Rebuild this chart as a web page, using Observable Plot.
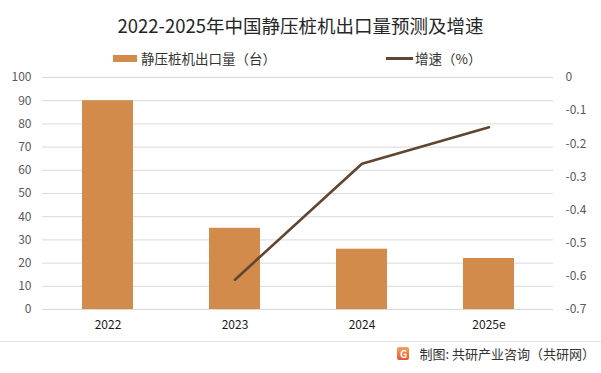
<!DOCTYPE html>
<html><head><meta charset="utf-8">
<script src="https://cdn.jsdelivr.net/npm/d3@7"></script>
<script src="https://cdn.jsdelivr.net/npm/@observablehq/plot@0.6"></script>
<style>
html,body{margin:0;padding:0;background:#fff;}
#wrap{position:relative;width:601px;height:373px;overflow:hidden;font-family:"Noto Sans CJK SC","Noto Sans",sans-serif;}
#wrap svg{position:absolute;left:0;top:0;}
.title{position:absolute;left:0;width:601px;top:12px;text-align:center;font-size:18.5px;color:#262626;}
.leg{position:absolute;top:48px;font-size:13.5px;color:#333;display:flex;align-items:center;}
.sw{display:inline-block;}
.foot{position:absolute;top:344px;right:6px;font-size:13px;color:#333;display:flex;align-items:center;}
.sep{position:absolute;top:341px;left:0;width:601px;height:1px;background:#e3e3e3;}
.logo{width:12px;height:13px;border-radius:2px;background:linear-gradient(#f7a35c,#e8542c);margin-right:10px;color:#fff;font-size:10px;font-weight:bold;text-align:center;line-height:13px;}
</style></head>
<body><div id="wrap">
<div class="title">2022-2025年中国静压桩机出口量预测及增速</div>
<div class="leg" style="left:113px"><span class="sw" style="width:24px;height:7px;background:#D38B4C;margin-right:4px"></span>静压桩机出口量（台）</div>
<div class="leg" style="left:386px"><span class="sw" style="width:27px;height:3px;background:#5E4630;margin-right:2px"></span>增速（%）</div>
<div class="sep"></div>
<div class="foot"><span class="logo">G</span>制图: 共研产业咨询（共研网）</div>
</div>
<script>
const years = ["2022", "2023", "2024", "2025e"];
const exportsQty = [90, 35, 26, 22];
const growthYears = ["2023", "2024", "2025e"];
const growth = [-0.61, -0.26, -0.15];
const leftTicks = [0,10,20,30,40,50,60,70,80,90,100];
const rightTicks = [0,-0.1,-0.2,-0.3,-0.4,-0.5,-0.6,-0.7];

const bars = years.map((y,i)=>({year:y, v:exportsQty[i]}));
const lineData = growthYears.map((y,i)=>({year:y, g:growth[i]}));

const common = {
  width: 601, height: 340,
  marginTop: 77, marginBottom: 31, marginLeft: 42, marginRight: 48,
  style: {fontFamily: '"Noto Sans CJK SC","Noto Sans",sans-serif', fontSize: "12px", background: "transparent", overflow: "visible"}
};
const xOpts = {type: "band", domain: years, paddingInner: 0.6, paddingOuter: 0.3, label: null};

const p1 = Plot.plot({
  ...common,
  x: xOpts,
  y: {domain: [0, 100], ticks: leftTicks, label: null},
  marks: [
    Plot.gridY(leftTicks, {stroke: "#d9d9d9", strokeOpacity: 1, strokeWidth: 1}),
    Plot.barY(bars, {x: "year", y: "v", fill: "#D38B4C"}),
    Plot.axisY(leftTicks, {tickSize: 0, tickPadding: 11, fill: "#595959", fontSize: 12, label: null}),
    Plot.axisX(years, {tickSize: 0, tickPadding: 11, fill: "#1a1a1a", fontSize: 12, label: null})
  ]
});
const p2 = Plot.plot({
  ...common,
  x: {...xOpts, axis: null},
  y: {domain: [-0.7, 0], axis: null},
  marks: [
    Plot.lineY(lineData, {x: "year", y: "g", stroke: "#5E4630", strokeWidth: 2.6}),
    Plot.axisY(rightTicks, {anchor: "right", tickSize: 0, tickPadding: 12, fill: "#595959", fontSize: 12, label: null, textAnchor: "start", tickFormat: d => String(d)})
  ]
});
const wrap = document.getElementById("wrap");
wrap.insertBefore(p2, wrap.firstChild);
wrap.insertBefore(p1, wrap.firstChild);
</script>
</body></html>
